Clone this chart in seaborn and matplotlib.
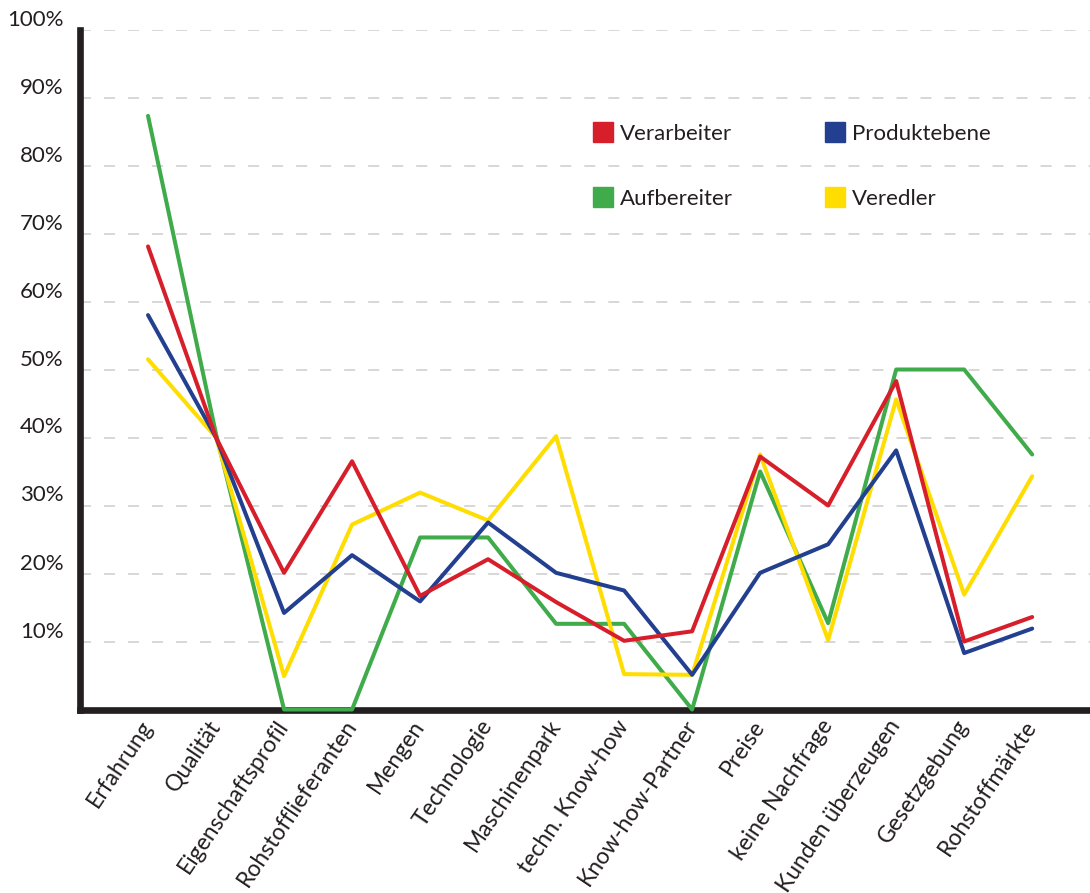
import matplotlib
matplotlib.use("Agg")
import matplotlib.pyplot as plt
from matplotlib.lines import Line2D
import seaborn as sns
import pandas as pd

categories = ["Erfahrung", "Qualität", "Eigenschaftsprofil", "Rohstofflieferanten",
              "Mengen", "Technologie", "Maschinenpark", "techn. Know-how",
              "Know-how-Partner", "Preise", "keine Nachfrage", "Kunden überzeugen",
              "Gesetzgebung", "Rohstoffmärkte"]

verarbeiter = [68.1, 40.0, 20.1, 36.5, 16.7, 22.1, 15.8, 10.1, 11.5, 37.2, 30.0, 48.3, 10.0, 13.6]
produktebene = [58.0, 40.0, 14.2, 22.7, 15.9, 27.5, 20.1, 17.5, 5.1, 20.1, 24.3, 38.1, 8.3, 11.9]
aufbereiter = [87.3, 40.5, 0.0, 0.0, 25.3, 25.3, 12.6, 12.6, 0.0, 35.0, 12.7, 50.0, 50.0, 37.5]
veredler = [51.5, 40.0, 4.9, 27.2, 31.9, 27.8, 40.2, 5.2, 5.1, 37.5, 10.2, 45.6, 16.9, 34.3]

series_names = ["Aufbereiter", "Veredler", "Produktebene", "Verarbeiter"]
series_values = [aufbereiter, veredler, produktebene, verarbeiter]
colors = {"Verarbeiter": "#d71f2b", "Produktebene": "#233f8f",
          "Aufbereiter": "#3fab4a", "Veredler": "#ffdd00"}

ytick_values = [10, 20, 30, 40, 50, 60, 70, 80, 90, 100]
ytick_labels = [f"{v}%" for v in ytick_values]

rows = []
for name, vals in zip(series_names, series_values):
    for i, v in enumerate(vals):
        rows.append({"idx": i, "value": v, "series": name})
df = pd.DataFrame(rows)

sns.set_theme(style="white")
plt.rcParams['font.family'] = ['Lato', 'DejaVu Sans']

fig = plt.figure(figsize=(10.9, 8.93), dpi=100)
ax = fig.add_axes([80/1090, 1 - 709.5/893, 1 - 80/1090, (709.5 - 29.5)/893])

sns.lineplot(data=df, x="idx", y="value", hue="series", hue_order=series_names,
             palette=colors, linewidth=2.9, ax=ax, legend=False, sort=False)
for ln in ax.get_lines():
    ln.set_zorder(6)
    ln.set_clip_on(False)

ax.set_xlim(-1.0, 13.85)
ax.set_ylim(0, 100)
ax.set_xticks(range(len(categories)))
ax.set_xticklabels(categories, rotation=56, ha="right", va="center",
                   rotation_mode="anchor", fontsize=16.5, color="#231f20")
ax.set_yticks(ytick_values)
ax.set_yticklabels(ytick_labels, fontsize=16, color="#231f20", va="bottom")
ax.tick_params(axis="x", length=0, pad=9)
ax.tick_params(axis="y", length=0, pad=12)
ax.set_xlabel("")
ax.set_ylabel("")

for y in ytick_values:
    ax.axhline(y, color="#d4d4d4", linewidth=1.3, linestyle=(0, (6.1, 7.2)), zorder=0)

for s in ["top", "right"]:
    ax.spines[s].set_visible(False)
for s in ["left", "bottom"]:
    ax.spines[s].set_color("#231f20")
    ax.spines[s].set_linewidth(4.8)
    ax.spines[s].set_zorder(5)

handles = []
order = ["Verarbeiter", "Aufbereiter", "Produktebene", "Veredler"]
for name in order:
    handles.append(Line2D([0], [0], marker="s", linestyle="none", markersize=15,
                          markerfacecolor=colors[name], markeredgecolor=colors[name]))
leg = ax.legend(handles, order, ncol=2, frameon=False, loc="upper left",
                bbox_to_anchor=((581 - 80) / 1010, 1 - (113 - 29.5) / 680),
                fontsize=16, labelspacing=2.0, columnspacing=4.1,
                handletextpad=0.25, handlelength=1.0, borderpad=0)
for t in leg.get_texts():
    t.set_color("#231f20")

fig.savefig("out.png", dpi=100)
